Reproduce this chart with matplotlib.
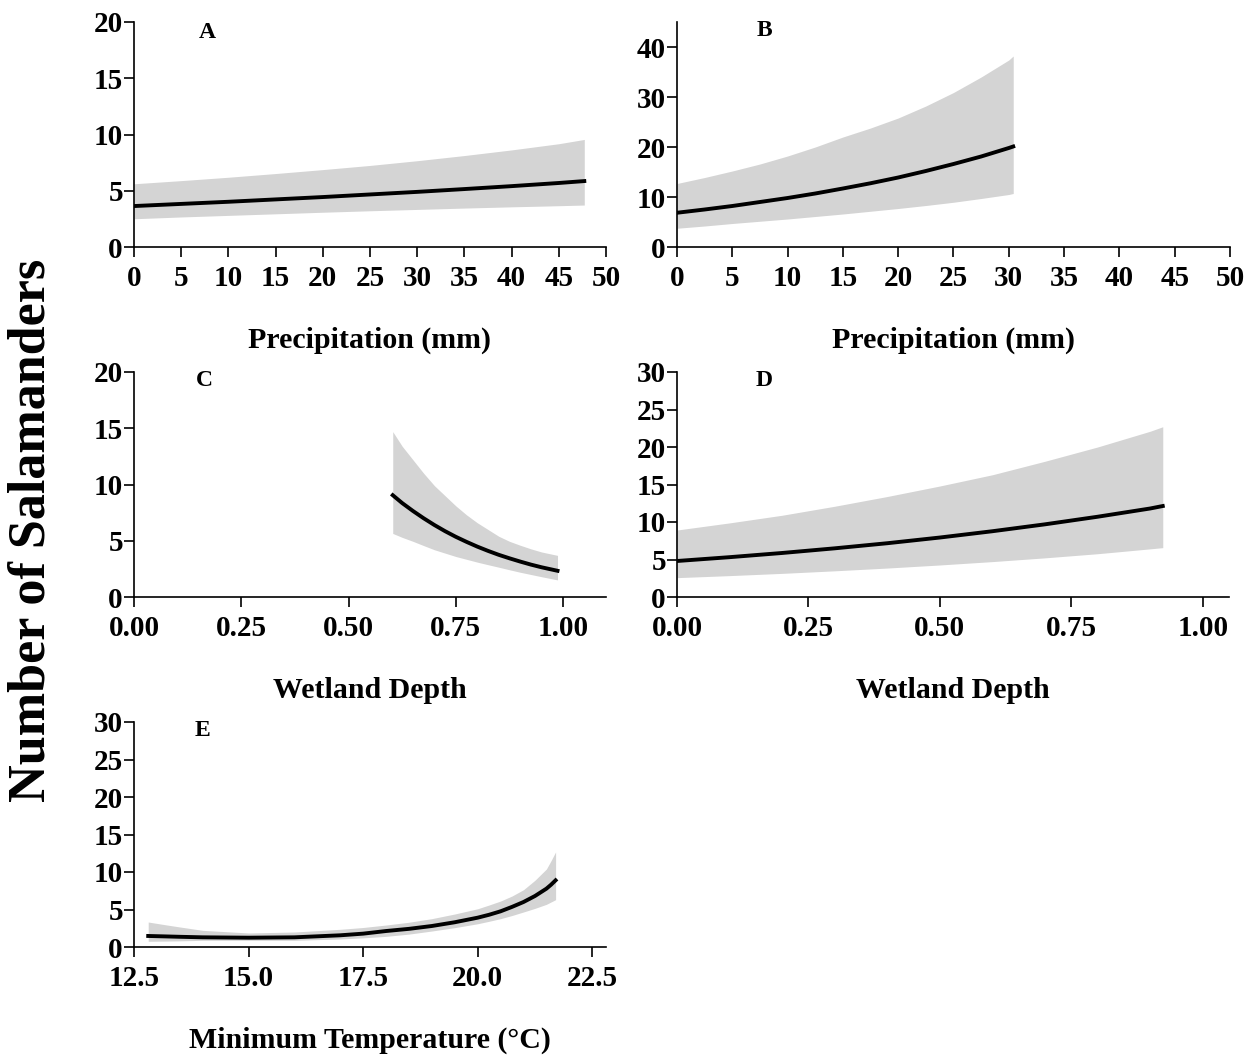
import matplotlib
matplotlib.use("Agg")
import matplotlib.pyplot as plt

plt.rcParams['font.family'] = ['Liberation Serif', 'DejaVu Serif']
plt.rcParams['font.weight'] = 'bold'

# ---- Data ----
# Panel A: precipitation
a_x = [0, 5, 10, 15, 20, 25, 30, 35, 40, 45, 47.7]
a_mean = [3.64, 3.83, 4.02, 4.23, 4.44, 4.67, 4.90, 5.15, 5.41, 5.69, 5.86]
a_upper = [5.62, 5.90, 6.20, 6.53, 6.88, 7.25, 7.67, 8.13, 8.63, 9.18, 9.56]
a_lower = [2.51, 2.67, 2.81, 2.95, 3.09, 3.22, 3.34, 3.46, 3.57, 3.67, 3.73]

# Panel B: precipitation
b_x = [0, 2.5, 5, 7.5, 10, 12.5, 15, 17.5, 20, 22.5, 25, 27.5, 30, 30.4]
b_mean = [6.85, 7.5, 8.2, 9.0, 9.8, 10.7, 11.7, 12.75, 13.9, 15.2, 16.6, 18.1, 19.8, 20.1]
b_upper = [12.7, 13.9, 15.2, 16.6, 18.2, 20.0, 22.0, 23.8, 25.8, 28.2, 30.9, 34.0, 37.4, 38.2]
b_lower = [3.75, 4.2, 4.7, 5.15, 5.6, 6.1, 6.6, 7.15, 7.7, 8.3, 8.95, 9.7, 10.5, 10.7]

# Panel C: wetland depth
c_x = [0.603, 0.625, 0.65, 0.675, 0.70, 0.725, 0.75, 0.775, 0.80, 0.825, 0.85,
       0.875, 0.90, 0.925, 0.95, 0.987]
c_mean = [9.05, 8.35, 7.65, 7.0, 6.40, 5.85, 5.35, 4.9, 4.48, 4.1, 3.75,
          3.44, 3.15, 2.88, 2.64, 2.33]
c_upper = [14.7, 13.4, 12.2, 11.0, 9.9, 9.0, 8.1, 7.3, 6.6, 6.0, 5.4,
           4.95, 4.6, 4.28, 4.0, 3.7]
c_lower = [5.65, 5.3, 4.95, 4.57, 4.2, 3.9, 3.6, 3.35, 3.1, 2.87, 2.65,
           2.42, 2.2, 2.0, 1.8, 1.52]

# Panel D: wetland depth
d_x = [0, 0.1, 0.2, 0.3, 0.4, 0.5, 0.6, 0.7, 0.8, 0.9, 0.924]
d_mean = [4.80, 5.31, 5.87, 6.49, 7.17, 7.93, 8.77, 9.69, 10.7, 11.8, 12.13]
d_upper = [8.93, 9.88, 10.9, 12.1, 13.4, 14.8, 16.3, 18.1, 20.0, 22.1, 22.7]
d_lower = [2.58, 2.85, 3.15, 3.49, 3.86, 4.27, 4.72, 5.22, 5.77, 6.42, 6.58]

# Panel E: minimum temperature
e_x = [12.81, 13.2, 13.5, 14, 15, 16, 17, 17.5, 18, 18.5, 19, 19.5, 20, 20.25,
       20.5, 20.75, 21, 21.25, 21.5, 21.6, 21.7]
e_mean = [1.47, 1.41, 1.36, 1.29, 1.24, 1.29, 1.56, 1.78, 2.13, 2.42, 2.8, 3.3,
          3.91, 4.3, 4.76, 5.35, 6.0, 6.8, 7.78, 8.3, 8.89]
e_upper = [3.33, 2.95, 2.67, 2.22, 1.87, 2.0, 2.36, 2.6, 2.93, 3.3, 3.78, 4.4,
           5.1, 5.6, 6.13, 6.8, 7.64, 8.9, 10.4, 11.5, 12.67]
e_lower = [0.76, 0.79, 0.82, 0.89, 0.89, 0.89, 1.07, 1.22, 1.42, 1.72, 2.13, 2.58,
           3.1, 3.43, 3.78, 4.2, 4.67, 5.15, 5.69, 6.0, 6.31]

letters = ['A', 'B', 'C', 'D', 'E']
xlabels = ['Precipitation (mm)', 'Precipitation (mm)', 'Wetland Depth',
           'Wetland Depth', 'Minimum Temperature (°C)']
ylabel = 'Number of Salamanders'

a_xticks = [0, 5, 10, 15, 20, 25, 30, 35, 40, 45, 50]
a_yticks = [0, 5, 10, 15, 20]
b_yticks = [0, 10, 20, 30, 40]
c_xticks = [0.0, 0.25, 0.5, 0.75, 1.0]
d_yticks = [0, 5, 10, 15, 20, 25, 30]
e_xticks = [12.5, 15.0, 17.5, 20.0, 22.5]

# ---- Figure ----
W, H = 1257, 1059
fig = plt.figure(figsize=(W / 100, H / 100), dpi=100)


def add_ax(l, t, r, b):
    return fig.add_axes([l / W, 1 - b / H, (r - l) / W, (b - t) / H])


panels = [
    dict(box=(134, 22, 606, 247), x=a_x, m=a_mean, u=a_upper, lo=a_lower,
         xlim=(0, 50), ylim=(0, 20), xt=a_xticks, xfmt='{:g}', yt=a_yticks,
         lab=(370, 340), let=(207, 32)),
    dict(box=(677, 22, 1230, 247), x=b_x, m=b_mean, u=b_upper, lo=b_lower,
         xlim=(0, 50), ylim=(0, 45), xt=a_xticks, xfmt='{:g}', yt=b_yticks,
         lab=(953, 340), let=(764, 31)),
    dict(box=(134, 372, 606, 597), x=c_x, m=c_mean, u=c_upper, lo=c_lower,
         xlim=(0, 1.1), ylim=(0, 20), xt=c_xticks, xfmt='{:.2f}', yt=a_yticks,
         lab=(370, 690), let=(204, 381)),
    dict(box=(677, 372, 1229, 597), x=d_x, m=d_mean, u=d_upper, lo=d_lower,
         xlim=(0, 1.05), ylim=(0, 30), xt=c_xticks, xfmt='{:.2f}', yt=d_yticks,
         lab=(953, 690), let=(764, 381)),
    dict(box=(134, 722, 606, 947), x=e_x, m=e_mean, u=e_upper, lo=e_lower,
         xlim=(12.5, 22.8), ylim=(0, 30), xt=e_xticks, xfmt='{:.1f}', yt=d_yticks,
         lab=(370, 1040), let=(202, 731)),
]

for p, letter, xl in zip(panels, letters, xlabels):
    ax = add_ax(*p['box'])
    ax.fill_between(p['x'], p['lo'], p['u'], color='#d4d4d4', lw=0, zorder=1)
    ax.plot(p['x'], p['m'], color='black', lw=2.8, zorder=2)
    ax.set_xlim(*p['xlim'])
    ax.set_ylim(*p['ylim'])
    ax.set_xticks(p['xt'])
    ax.set_xticklabels([p['xfmt'].format(v) for v in p['xt']])
    ax.set_yticks(p['yt'])
    ax.set_yticklabels([str(v) for v in p['yt']])
    for s in ['top', 'right']:
        ax.spines[s].set_visible(False)
    for s in ['left', 'bottom']:
        ax.spines[s].set_linewidth(1.2)
    ax.tick_params(direction='out', length=7, width=1.2, labelsize=21)
    ax.tick_params(axis='y', pad=1)
    ax.tick_params(axis='x', pad=6)
    for lbl in ax.get_xticklabels() + ax.get_yticklabels():
        lbl.set_fontweight('bold')
    fig.text(p['lab'][0] / W, 1 - p['lab'][1] / H, xl, ha='center', va='center',
             fontsize=21.5, fontweight='bold')
    fig.text(p['let'][0] / W, 1 - p['let'][1] / H, letter, ha='center', va='center',
             fontsize=17, fontweight='bold')

fig.text(32 / W, 1 - 530 / H, ylabel, rotation=90, ha='center', va='center',
         fontsize=37.5, fontweight='bold')

fig.savefig('out.png', dpi=100)
